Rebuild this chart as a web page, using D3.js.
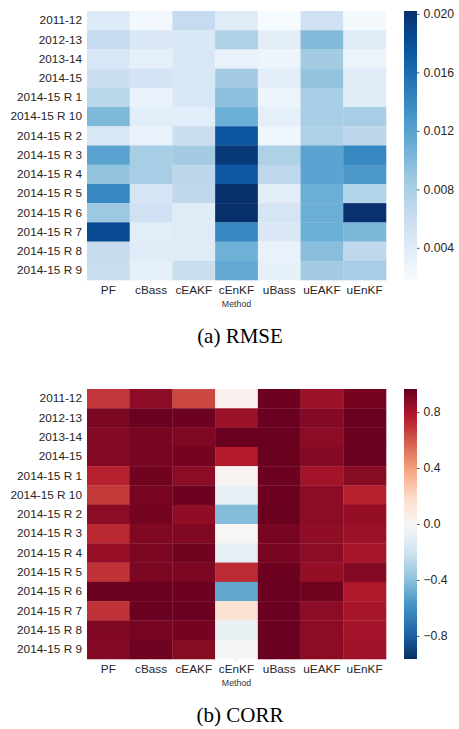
<!DOCTYPE html>
<html>
<head>
<meta charset="utf-8">
<script src="https://cdn.jsdelivr.net/npm/d3@7"></script>
<style>
  html, body { margin: 0; padding: 0; background: #fff; }
  svg { display: block; }
</style>
</head>
<body>
<svg id="chart" width="459" height="729"></svg>
<script>
// ---------- data ----------
const rowLabels = ["2011-12", "2012-13", "2013-14", "2014-15", "2014-15 R 1", "2014-15 R 10",
  "2014-15 R 2", "2014-15 R 3", "2014-15 R 4", "2014-15 R 5", "2014-15 R 6", "2014-15 R 7",
  "2014-15 R 8", "2014-15 R 9"];
const methods = ["PF", "cBass", "cEAKF", "cEnKF", "uBass", "uEAKF", "uEnKF"];

// RMSE, one array per method (rows in rowLabels order)
const rmsePF    = [0.0042, 0.0064, 0.0047, 0.0060, 0.0071, 0.0101, 0.0047, 0.0119, 0.0092, 0.0141, 0.0088, 0.0184, 0.0062, 0.0061];
const rmseCBass = [0.0022, 0.0044, 0.0035, 0.0051, 0.0031, 0.0038, 0.0031, 0.0081, 0.0082, 0.0049, 0.0055, 0.0038, 0.0040, 0.0035];
const rmseCEAKF = [0.0064, 0.0046, 0.0047, 0.0046, 0.0047, 0.0038, 0.0060, 0.0084, 0.0070, 0.0068, 0.0040, 0.0040, 0.0040, 0.0060];
const rmseCEnKF = [0.0040, 0.0077, 0.0031, 0.0084, 0.0095, 0.0110, 0.0176, 0.0195, 0.0173, 0.0202, 0.0202, 0.0141, 0.0108, 0.0115];
const rmseUBass = [0.0020, 0.0036, 0.0027, 0.0036, 0.0027, 0.0035, 0.0025, 0.0077, 0.0068, 0.0036, 0.0049, 0.0044, 0.0031, 0.0033];
const rmseUEAKF = [0.0055, 0.0099, 0.0084, 0.0092, 0.0082, 0.0081, 0.0077, 0.0119, 0.0119, 0.0110, 0.0110, 0.0110, 0.0097, 0.0084];
const rmseUEnKF = [0.0021, 0.0040, 0.0029, 0.0040, 0.0040, 0.0081, 0.0070, 0.0141, 0.0128, 0.0075, 0.0201, 0.0103, 0.0068, 0.0082];

// CORR, one array per method
const corrPF    = [0.69, 0.91, 0.89, 0.89, 0.75, 0.68, 0.87, 0.73, 0.84, 0.70, 0.955, 0.70, 0.90, 0.89];
const corrCBass = [0.87, 0.955, 0.92, 0.92, 0.94, 0.92, 0.93, 0.90, 0.91, 0.91, 0.955, 0.955, 0.92, 0.945];
const corrCEAKF = [0.64, 0.95, 0.90, 0.93, 0.87, 0.95, 0.86, 0.90, 0.94, 0.91, 0.95, 0.955, 0.93, 0.88];
const corrCEnKF = [0.04, 0.83, 0.955, 0.77, 0.03, -0.09, -0.42, 0.01, -0.09, 0.72, -0.50, 0.145, -0.07, -0.02];
const corrUBass = [0.95, 0.955, 0.96, 0.96, 0.95, 0.95, 0.96, 0.92, 0.92, 0.95, 0.955, 0.955, 0.955, 0.955];
const corrUEAKF = [0.83, 0.89, 0.87, 0.89, 0.81, 0.87, 0.87, 0.86, 0.87, 0.85, 0.94, 0.87, 0.87, 0.87];
const corrUEnKF = [0.93, 0.96, 0.96, 0.955, 0.88, 0.75, 0.85, 0.83, 0.80, 0.89, 0.78, 0.80, 0.81, 0.82];

const rmseTicks = [0.004, 0.008, 0.012, 0.016, 0.020];
const corrTicks = [-0.8, -0.4, 0.0, 0.4, 0.8];
const rmseRange = [0.0018, 0.0202];
const corrRange = [-0.965, 0.965];

const rmseCols = [rmsePF, rmseCBass, rmseCEAKF, rmseCEnKF, rmseUBass, rmseUEAKF, rmseUEnKF];
const corrCols = [corrPF, corrCBass, corrCEAKF, corrCEnKF, corrUBass, corrUEAKF, corrUEnKF];

// ---------- colormaps (matplotlib stops) ----------
const bluesStops = ["#f7fbff", "#deebf7", "#c6dbef", "#9ecae1", "#6baed6", "#4292c6", "#2171b5", "#08519c", "#08306b"];
const rdbuRStops = ["#053061", "#2166ac", "#4393c3", "#92c5de", "#d1e5f0", "#f7f7f7", "#fddbc7", "#f4a582", "#d6604d", "#b2182b", "#67001f"];

function makeColor(stops, lo, hi) {
  const dom = stops.map((_, i) => lo + (hi - lo) * i / (stops.length - 1));
  return d3.scaleLinear().domain(dom).range(stops).interpolate(d3.interpolateRgb).clamp(true);
}

const svg = d3.select("#chart");
const textColor = "#262626";
const sansFont = "'Liberation Sans', Arial, sans-serif";

function drawHeatmap(cfg) {
  const g = svg.append("g");
  const x = d3.scaleBand().domain(methods).range([87, 386]);
  const y = d3.scaleBand().domain(rowLabels).range([cfg.top, cfg.bottom]);
  const color = makeColor(cfg.stops, cfg.range[0], cfg.range[1]);

  const cells = [];
  cfg.cols.forEach((col, ci) => col.forEach((v, ri) => cells.push({ m: methods[ci], r: rowLabels[ri], v })));

  g.selectAll("rect.cell").data(cells).join("rect")
    .attr("class", "cell")
    .attr("x", d => x(d.m))
    .attr("y", d => y(d.r))
    .attr("width", x.bandwidth() + 0.3)
    .attr("height", y.bandwidth() + 0.3)
    .attr("fill", d => color(d.v));

  // row labels
  const yAxis = g.append("g").attr("transform", "translate(87,0)")
    .call(d3.axisLeft(y).tickSize(0).tickPadding(5));
  yAxis.select(".domain").remove();
  yAxis.selectAll("text").attr("font-family", sansFont).attr("font-size", "11.8px").attr("fill", textColor);

  // column labels
  const xAxis = g.append("g").attr("transform", `translate(0,${cfg.bottom})`)
    .call(d3.axisBottom(x).tickSize(2.5).tickPadding(3.5));
  xAxis.select(".domain").remove();
  xAxis.selectAll("line").attr("stroke", "#e6e6e6");
  xAxis.selectAll("text").attr("font-family", sansFont).attr("font-size", "11.8px").attr("fill", textColor);

  g.append("text")
    .attr("x", (87 + 386) / 2).attr("y", cfg.bottom + 27)
    .attr("text-anchor", "middle")
    .attr("font-family", sansFont).attr("font-size", "8.8px").attr("fill", "#333")
    .text("Method");

  // colorbar
  const cbX = 404, cbW = 13;
  const cy = d3.scaleLinear().domain(cfg.range).range([cfg.bottom, cfg.top]);
  const gradId = "grad-" + cfg.id;
  const grad = svg.append("defs").append("linearGradient")
    .attr("id", gradId).attr("x1", 0).attr("y1", 1).attr("x2", 0).attr("y2", 0);
  d3.range(0, 1.0001, 0.02).forEach(t => {
    grad.append("stop").attr("offset", t)
      .attr("stop-color", color(cfg.range[0] + t * (cfg.range[1] - cfg.range[0])));
  });
  g.append("rect").attr("x", cbX).attr("y", cfg.top).attr("width", cbW)
    .attr("height", cfg.bottom - cfg.top).attr("fill", `url(#${gradId})`);

  const cAxis = g.append("g").attr("transform", `translate(${cbX + cbW},0)`)
    .call(d3.axisRight(cy).tickValues(cfg.ticks).tickFormat(cfg.fmt).tickSize(2.5).tickPadding(4));
  cAxis.select(".domain").remove();
  cAxis.selectAll("line").attr("stroke", "#555");
  cAxis.selectAll("text").attr("font-family", sansFont).attr("font-size", "12.2px").attr("fill", textColor);

  // caption
  svg.append("text")
    .attr("x", 240).attr("y", cfg.bottom + 63)
    .attr("text-anchor", "middle")
    .attr("font-family", "'Liberation Serif', 'Times New Roman', serif")
    .attr("font-size", "21px").attr("fill", "#000")
    .text(cfg.caption);
}

drawHeatmap({
  id: "rmse", top: 11, bottom: 280, cols: rmseCols, stops: bluesStops, range: rmseRange,
  ticks: rmseTicks, fmt: d3.format(".3f"), caption: "(a) RMSE"
});
drawHeatmap({
  id: "corr", top: 389, bottom: 659, cols: corrCols, stops: rdbuRStops, range: corrRange,
  ticks: corrTicks, fmt: d => d3.format(".1f")(d).replace("-", "\u2212"), caption: "(b) CORR"
});
</script>
</body>
</html>
